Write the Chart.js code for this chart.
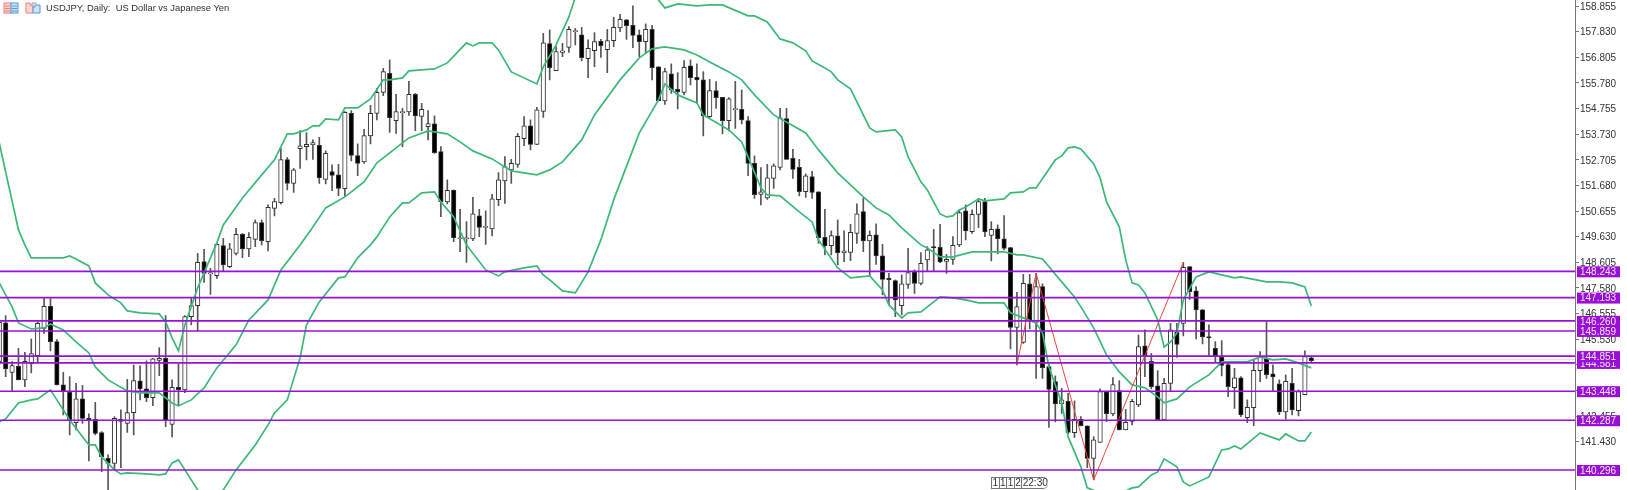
<!DOCTYPE html>
<html>
<head>
<meta charset="utf-8">
<title>USDJPY, Daily</title>
<script src="https://cdn.jsdelivr.net/npm/chart.js@4"></script>
<style>
    html, body { margin: 0; padding: 0; background: #fff; }
    #wrap { position: relative; width: 1627px; height: 490px; overflow: hidden; }
    #title { position: absolute; left: 46px; top: 2px; font: 9.4px "Liberation Sans", sans-serif; color: #333; white-space: pre; }
    #icons { position: absolute; left: 3px; top: 2px; }
    #stamp { position: absolute; left: 991px; top: 477px; height: 11px; display: flex; font: 10px/11px "Liberation Sans", sans-serif; color: #333; }
    #stamp span { border: 1px solid #777; border-right: 0; padding: 0 0.5px; height: 10px; line-height: 10px; }
    #stamp span:last-child { border-right: 0; border-radius: 0 5px 5px 0; }
</style>
</head>
<body>
<div id="wrap">
    <canvas id="myChart" width="1627" height="490"></canvas>
    <svg id="icons" width="40" height="13">
        <rect x="1" y="1" width="7" height="10" fill="#fbd5d2" stroke="#ee7f78"/>
        <rect x="8" y="1" width="7" height="10" fill="#cfe4f7" stroke="#4b9bd8"/>
        <path d="M2 4h5M2 6.5h5M2 9h5" stroke="#ee7f78"/>
        <path d="M9 4h5M9 6.5h5M9 9h5" stroke="#4b9bd8"/>
        <path d="M23 1h4v2h3v8h-7z" fill="#fbd5d2" stroke="#ee7f78"/>
        <path d="M30 5h2V3h5v8h-7z" fill="#cfe4f7" stroke="#4b9bd8"/>
        <rect x="29" y="1" width="4" height="3" fill="#ddd" stroke="#aaa"/>
    </svg>
    <div id="title">USDJPY, Daily:  US Dollar vs Japanese Yen</div>
    <div id="stamp"><span>1</span><span>1</span><span>1</span><span>2</span><span>22:30</span></div>
</div>
<script>
// daily candles
const opens = [
    144.63,146.18,144.20,144.44,143.90,144.55,144.87,145.96,146.84,145.43,
    143.70,143.40,142.19,143.14,142.36,142.32,141.79,140.76,140.56,142.32,
    142.16,142.59,143.86,143.54,143.19,144.68,144.76,142.12,143.60,143.50,
    146.43,146.87,148.63,148.14,148.07,149.27,148.43,148.96,149.72,149.14,
    149.52,150.19,149.43,150.76,150.99,152.71,151.76,153.15,153.23,153.30,
    153.28,151.92,152.23,152.10,151.55,154.56,152.87,152.62,153.66,154.56,
    155.40,156.16,154.27,154.59,154.62,155.32,154.44,154.03,154.14,153.03,
    151.02,151.48,149.55,149.55,149.54,150.46,150.00,149.94,151.11,151.86,
    152.30,152.52,153.55,154.06,153.32,154.64,157.35,156.27,157.00,157.20,
    157.83,157.70,156.75,157.07,157.44,157.11,157.47,157.98,158.30,158.08,
    157.70,157.43,157.92,156.42,155.06,156.14,155.52,155.40,156.46,156.00,
    155.90,154.43,155.47,155.20,154.27,154.71,154.72,154.27,152.56,151.32,
    151.18,151.96,152.40,154.35,152.76,152.40,151.43,152.03,151.42,149.60,
    149.27,149.66,148.98,149.00,149.76,150.63,149.46,149.70,148.86,147.96,
    147.87,146.87,147.72,148.22,147.76,148.70,149.23,149.20,148.64,148.72,
    149.30,150.66,149.83,150.52,151.03,149.68,149.94,149.54,149.19,146.00,
    145.40,147.74,146.20,147.63,144.43,143.83,142.94,143.04,141.79,142.32,
    142.06,140.76,141.40,143.42,142.54,143.47,141.90,142.24,142.90,145.26,
    144.64,143.66,142.30,143.76,145.80,146.16,148.43,147.46,146.70,145.63,
    145.16,144.80,144.51,143.59,143.98,142.39,142.79,144.27,144.75,144.14,
    143.74,142.62,143.76,142.67,143.31,144.78
];
const highs = [
    146.30,146.47,144.63,145.16,145.00,145.54,146.23,147.16,147.16,145.51,
    144.20,144.03,143.76,143.68,142.54,143.00,141.83,140.90,142.43,142.70,
    143.92,144.50,144.46,144.66,144.76,145.19,146.47,143.90,144.54,146.47,
    147.16,148.96,149.12,148.36,149.36,149.56,149.36,149.96,149.76,149.79,
    150.30,150.30,150.90,151.16,153.16,152.80,152.36,153.87,153.79,153.50,
    153.60,153.06,152.50,152.52,154.63,154.67,153.34,153.92,154.88,155.56,
    156.36,156.70,155.32,154.76,155.84,155.36,154.96,154.67,154.46,153.23,
    151.90,151.50,150.72,150.23,151.20,150.72,150.66,151.32,152.19,152.83,
    152.72,153.76,154.43,154.30,154.80,157.76,157.90,157.23,157.36,158.03,
    157.96,158.00,157.50,157.79,157.52,157.92,158.40,158.52,158.32,158.86,
    157.90,158.14,158.08,156.43,156.36,156.54,156.19,156.67,156.70,156.54,
    156.23,155.92,155.83,155.20,155.19,155.84,155.50,154.43,152.86,152.39,
    152.52,152.54,154.76,154.76,153.12,152.72,152.14,152.24,151.43,150.72,
    149.86,150.30,149.86,150.12,150.94,151.16,149.86,150.14,149.32,148.16,
    147.90,148.10,149.16,148.30,148.99,149.23,149.92,150.12,148.92,149.63,
    150.70,150.90,150.70,151.16,151.16,150.23,150.10,150.47,149.20,147.40,
    148.12,148.12,148.16,147.74,144.52,144.06,143.56,143.36,143.06,142.43,
    142.06,141.63,143.54,143.43,143.99,143.87,142.72,143.12,145.70,145.90,
    144.96,144.27,143.96,146.16,146.16,148.60,148.43,147.63,146.72,146.10,
    145.43,145.47,144.56,144.36,144.03,143.10,144.70,145.03,146.23,144.50,
    143.90,144.10,144.36,143.50,145.06,144.83
];
const lows = [
    144.50,144.03,143.47,143.90,143.63,144.18,144.63,145.76,145.06,143.70,
    142.50,141.70,141.90,142.16,140.66,141.70,140.23,139.50,140.34,140.39,
    141.80,141.70,143.10,143.03,142.87,144.07,142.03,141.62,142.90,143.39,
    146.10,145.86,147.80,147.32,147.96,148.26,148.39,148.90,148.79,148.83,
    149.23,149.30,149.06,150.46,150.94,151.50,151.40,152.36,152.70,152.72,
    151.76,151.74,151.47,151.27,151.26,152.66,152.07,152.56,153.34,154.30,
    155.27,153.80,153.76,153.23,154.48,153.87,153.87,153.50,152.96,150.43,
    150.94,149.43,149.03,148.60,149.47,149.63,149.32,149.66,150.87,150.96,
    151.76,152.40,153.27,153.10,153.31,154.40,155.90,156.27,156.83,157.00,
    157.30,156.66,155.99,156.43,156.80,156.19,157.23,157.83,157.52,157.19,
    156.83,156.99,155.90,155.06,154.92,155.36,154.74,155.30,155.70,154.96,
    153.66,154.40,154.76,153.74,153.86,153.96,154.14,152.07,151.16,150.90,
    151.12,151.56,152.30,152.72,151.96,151.26,151.20,151.16,149.36,148.90,
    148.90,148.50,148.63,148.67,149.36,149.03,148.07,148.52,147.30,146.90,
    146.43,146.50,147.56,147.36,147.70,148.26,148.23,148.59,148.16,148.52,
    149.23,149.50,149.76,149.99,149.63,148.66,148.94,149.10,145.14,144.50,
    145.36,145.94,143.96,143.96,142.00,142.22,142.56,141.74,141.60,142.06,
    140.39,139.90,141.40,142.23,142.47,141.90,141.90,142.10,142.83,144.03,
    143.54,142.30,142.30,143.46,144.80,145.66,147.12,145.54,145.34,144.86,
    144.63,144.06,143.23,142.76,142.43,142.19,142.07,143.83,143.96,143.43,
    142.51,142.32,142.50,142.46,143.31,144.59
];
const closes = [
    146.20,144.34,144.47,143.90,144.64,144.95,146.16,146.84,145.43,143.70,
    143.46,142.30,143.14,142.36,142.30,141.76,140.83,140.56,142.36,142.24,
    142.59,143.87,143.54,143.19,144.74,144.76,142.27,143.60,143.51,146.43,
    146.87,148.60,148.16,148.18,149.32,148.50,149.14,149.72,149.14,149.60,
    150.19,149.47,150.80,151.03,152.71,151.76,152.30,153.26,153.32,153.39,
    151.99,152.96,152.08,151.56,154.60,152.88,152.56,153.67,154.56,155.40,
    156.23,154.39,154.63,154.63,155.32,154.46,154.72,154.15,152.99,151.03,
    151.48,149.59,149.58,149.58,150.54,150.00,150.04,151.14,151.90,152.43,
    152.56,153.64,154.06,153.32,154.70,157.38,156.39,157.03,157.06,157.92,
    157.87,156.79,157.16,157.43,157.27,157.47,158.00,158.32,158.07,157.68,
    157.43,157.92,156.39,155.06,156.23,155.50,155.42,156.40,155.99,155.90,
    154.47,155.47,155.19,154.27,155.14,154.75,154.30,152.56,151.31,151.42,
    151.98,152.46,154.38,152.72,152.32,151.43,152.06,151.40,149.59,149.26,
    149.67,148.99,149.06,149.80,150.54,149.46,149.68,148.86,147.92,147.91,
    147.10,147.74,148.19,147.76,148.56,149.10,149.18,148.62,148.72,149.28,
    150.59,149.86,150.52,151.03,149.82,149.92,149.55,149.16,146.00,146.83,
    147.76,146.26,147.63,144.39,143.52,142.94,143.10,141.80,142.32,142.07,
    140.76,141.50,143.43,142.55,143.71,141.90,142.20,143.04,145.23,144.86,
    143.63,142.30,143.76,145.90,145.32,148.40,147.43,146.70,145.62,145.58,
    144.83,144.48,143.63,143.98,142.50,142.80,144.28,144.80,144.11,144.02,
    142.62,143.84,142.70,143.43,144.83,144.67
];

// bollinger bands: candle number and price at each bend of the line
const upperIdx = [0,3,4,5,10,11,12,14,15,17,19,20,22,25,26,27,28,29,31,34,35,38,41,43,45,46,48,49,50,51,53,54,56,58,60,61,63,64,68,70,73,74,75,77,78,80,84,85,87,89,90,92,97,101,103,104,106,109,111,113,117,118,120,122,124,126,127,129,130,131,133,136,137,140,141,142,144,145,147,148,149,150,151,153,154,157,158,160,161,162,165,166,167,168,169,171,172,173,175,176,177,178,179,181,182,183,184,185,187,189,191,193,194,198,200,202,204,205];
const upperVals = [153.38,149.90,149.30,148.78,148.78,148.86,148.74,148.46,147.78,147.30,146.98,146.66,146.58,146.54,146.22,145.58,145.06,146.10,147.58,149.38,150.10,151.18,152.10,152.70,153.74,153.74,153.90,154.06,154.06,154.34,154.30,154.78,154.78,155.14,155.90,155.90,155.98,156.26,156.34,156.58,157.38,157.26,157.38,157.38,157.10,156.22,155.74,156.42,157.30,158.42,159.20,160.00,160.20,159.90,159.10,158.78,158.94,158.86,158.90,158.90,158.46,158.46,158.22,157.54,157.38,157.06,156.66,156.38,156.22,155.90,155.54,153.98,153.82,153.90,153.62,152.82,151.82,151.50,150.54,150.42,150.46,150.70,150.82,151.14,151.06,151.14,151.38,151.42,151.58,151.58,152.70,152.86,153.18,153.22,153.14,152.54,151.98,151.02,150.02,148.70,147.78,147.70,147.38,146.30,145.22,145.42,145.78,147.10,148.02,148.22,148.10,147.98,148.02,147.82,147.82,147.78,147.62,146.86];

const middleIdx = [0,2,3,5,7,8,10,12,14,15,17,20,22,25,27,28,30,32,34,37,39,42,44,47,49,51,54,57,59,62,64,67,70,72,74,77,80,84,86,88,91,93,97,100,102,104,107,109,111,114,116,118,121,123,126,128,131,135,137,139,141,144,145,147,149,152,157,159,160,163,166,168,169,171,173,175,177,179,181,182,184,186,189,191,193,195,197,199,201,203,205];
const middleVals = [147.78,146.82,146.18,145.94,145.98,146.14,145.90,145.42,144.98,144.42,143.90,143.46,143.38,143.38,142.98,142.86,143.10,143.58,144.38,145.30,146.30,147.10,148.30,149.30,150.02,150.78,151.22,151.82,152.58,153.18,153.58,153.86,153.74,153.42,153.06,152.74,152.26,152.10,152.30,152.62,153.50,154.50,155.90,156.78,157.14,157.22,157.10,156.90,156.62,156.22,155.90,155.30,154.50,154.22,153.78,153.10,152.18,151.22,150.78,150.50,149.98,149.30,149.18,148.82,148.82,149.02,149.02,148.90,148.90,148.74,147.82,147.22,146.82,145.98,144.90,144.22,143.70,143.58,143.22,142.98,143.14,143.62,144.10,144.62,144.62,144.62,144.82,144.70,144.74,144.58,144.38];

const lowerIdx = [0,1,3,5,6,8,9,11,14,15,16,18,19,20,23,25,26,27,28,29,31,33,35,37,40,42,43,45,47,48,50,53,54,56,58,59,61,63,64,66,68,69,71,73,76,78,79,82,84,85,86,88,90,92,94,96,100,103,104,106,109,110,114,116,117,119,120,122,125,127,128,131,133,136,138,139,141,142,144,145,147,149,151,153,157,158,160,162,163,164,166,167,169,170,174,177,178,180,181,182,184,185,186,189,191,192,193,194,197,200,201,203,204,205];
const lowerVals = [142.22,142.34,142.98,143.10,143.14,143.50,143.10,142.30,141.30,141.30,140.82,140.30,140.14,140.18,140.14,140.10,140.14,140.58,140.70,140.30,139.50,139.10,139.50,140.30,141.30,142.10,142.58,143.10,144.78,146.10,147.02,147.98,148.02,148.78,149.30,149.62,150.42,150.98,150.98,151.38,151.42,151.02,150.42,149.30,148.30,148.06,148.22,148.38,148.46,148.10,147.90,147.46,147.38,148.22,149.50,151.10,153.78,155.10,155.74,155.30,154.98,154.50,153.90,153.42,152.82,151.58,151.30,151.26,150.62,150.22,149.50,148.38,147.98,148.06,147.50,146.90,146.38,146.58,146.62,146.82,147.22,147.18,147.10,146.98,146.98,146.58,146.38,146.18,145.78,144.42,142.98,141.62,140.42,139.58,139.20,139.58,139.62,140.10,140.22,140.74,140.42,139.82,139.66,140.02,141.10,141.14,141.26,141.14,141.78,141.50,141.74,141.46,141.46,141.82];

// red zigzag
const zigIdx = [159,162,171,185];
const zigVals = [144.50,148.16,139.90,148.60];

// horizontal levels and the right hand axis
const levels = [148.243,147.193,146.260,145.859,144.851,144.581,143.448,142.287,140.296];
const tickVals = [141.430,142.455,143.480,144.505,145.530,146.555,147.580,148.605,149.630,150.655,151.680,152.705,153.730,154.755,155.780,156.805,157.830,158.855];
const askLevel = 144.72;

const xMin = 0.114;
const xMax = 246.2;
const yMin = 139.496;
const yMax = 159.096;

function pairs(idx, vals) {
    return idx.map((x, i) => ({ x: x, y: vals[i] }));
}

function bandDataset(idx, vals) {
    return {
        type: "line",
        data: pairs(idx, vals),
        borderColor: "#3cb878",
        borderWidth: 1.7,
        pointRadius: 0,
        tension: 0,
        order: 3,
    };
}

function levelDataset(value, color, width, order) {
    return {
        type: "line",
        data: [{ x: xMin, y: value }, { x: xMax, y: value }],
        borderColor: color,
        borderWidth: width,
        pointRadius: 0,
        order: order,
    };
}

// the purple price tags sit on top of the axis labels
const levelTags = {
    id: "levelTags",
    afterDraw(chart) {
        const c = chart.ctx;
        const y = chart.scales.y;
        const sorted = levels.slice().sort((a, b) => a - b);
        c.save();
        c.font = '10px "Liberation Sans", sans-serif';
        c.textBaseline = "middle";
        sorted.forEach((v) => {
            const py = y.getPixelForValue(v);
            c.fillStyle = "#9a0fd6";
            c.fillRect(1577, py - 5, 43, 11);
            c.fillStyle = "#f4e6fb";
            c.fillText(v.toFixed(3), 1580, py + 1);
        });
        c.restore();
    },
};

const candleData = {
    datasets: [
        ...levels.map((v) => levelDataset(v, "#9a10d8", 1.6, 1)),
        levelDataset(askLevel, "#e2dfe6", 1.5, 6),
        {
            type: "line",
            data: pairs(zigIdx, zigVals),
            borderColor: "#f0443c",
            borderWidth: 1,
            pointRadius: 0,
            tension: 0,
            order: 2,
        },
        bandDataset(upperIdx, upperVals),
        bandDataset(middleIdx, middleVals),
        bandDataset(lowerIdx, lowerVals),
        {
            type: "bar",
            data: opens.map((o, i) => ({ x: i, y: [o, closes[i]] })),
            barThickness: 4.5,
            borderWidth: 1,
            borderSkipped: false,
            borderColor: "#333",
            backgroundColor: (ctx) => (closes[ctx.dataIndex] >= opens[ctx.dataIndex] ? "#fff" : "#000"),
            order: 4,
        },
        {
            type: "bar",
            data: highs.map((h, i) => ({ x: i, y: [lows[i], h] })),
            barThickness: 1,
            borderWidth: 0,
            backgroundColor: "#555",
            order: 5,
        },
    ],
};

new Chart(document.getElementById("myChart"), {
    data: candleData,
    plugins: [levelTags],
    options: {
        responsive: false,
        animation: false,
        layout: { padding: 0 },
        datasets: { bar: { grouped: false } },
        plugins: {
            legend: { display: false },
            tooltip: { enabled: false },
        },
        scales: {
            x: {
                type: "linear",
                display: false,
                offset: false,
                min: xMin,
                max: xMax,
            },
            y: {
                position: "right",
                min: yMin,
                max: yMax,
                afterBuildTicks(scale) {
                    scale.ticks = tickVals.map((v) => ({ value: v }));
                },
                afterFit(scale) {
                    scale.width = 52;
                    scale.paddingTop = 0;
                    scale.paddingBottom = 0;
                },
                border: { color: "#777", width: 1 },
                grid: { drawOnChartArea: false, tickLength: 4, color: "#777" },
                ticks: {
                    autoSkip: false,
                    padding: 1,
                    labelOffset: 1,
                    color: "#333",
                    font: { family: "Liberation Sans", size: 10 },
                    callback: (v) => v.toFixed(3),
                },
            },
        },
    },
});
</script>
</body>
</html>
